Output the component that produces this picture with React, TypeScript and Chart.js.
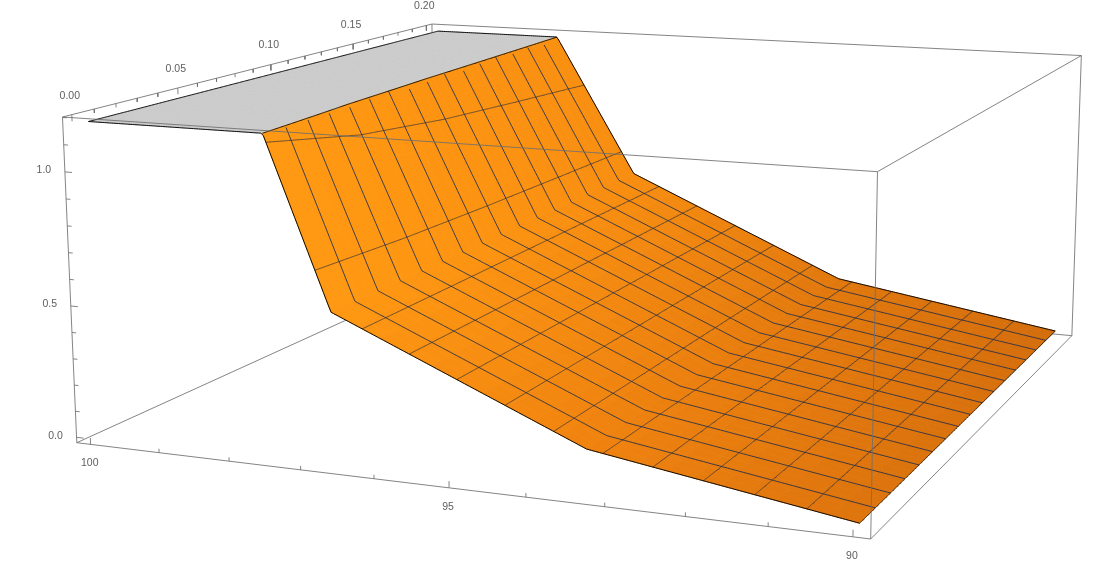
import React, { useEffect, useRef } from "react";
import { Chart, registerables } from "chart.js";

Chart.register(...registerables);

// ---- data ----
const strikes = [100, 96.67, 93.33, 90];
const maturities = [0.001, 0.05, 0.1, 0.15, 0.2];
const values100 = [2.94, 2.6, 2.4, 2.27, 2.15];
const values9667 = [0.551, 0.555, 0.56, 0.565, 0.57];
const values9333 = [0.153, 0.154, 0.156, 0.158, 0.159];
const values90 = [0.004, 0.005, 0.006, 0.007, 0.008];
const zClip = 1.178;
const meshDivisions = 16;

const xTickLabels = ["100", "95", "90"];
const tTickLabels = ["0.00", "0.05", "0.10", "0.15", "0.20"];
const zTickLabels = ["0.0", "0.5", "1.0"];

// ---- style ----
const W = 1119;
const H = 564;
const shadeByStrike = [
  [[255, 154, 18], [255, 152, 18], [254, 150, 18], [252, 148, 17], [250, 146, 17]],
  [[255, 152, 18], [254, 150, 18], [252, 147, 17], [250, 144, 17], [248, 142, 16]],
  [[240, 131, 15], [237, 129, 15], [233, 126, 14], [229, 123, 14], [225, 120, 13]],
  [[221, 116, 13], [219, 115, 13], [217, 113, 13], [214, 111, 12], [211, 109, 12]],
];
const plateauColor = "#cbcbcb";
const boxColor = "rgba(110,110,110,0.85)";
const labelColor = "#606060";
const meshStrikeColor = "rgba(55,50,55,0.72)";
const meshMaturityColor = "rgba(30,45,75,0.85)";

// ---- camera: maps box coordinates to the picture ----
const toU = (x: number) => 0.0198 + (0.9604 * (100 - x)) / 10;
const toV = (t: number) => 0.0196 + (0.9608 * t) / 0.2;
const toW = (z: number) => 0.0169 + 0.818 * z;
const projectBox = (u: number, v: number, w: number) => {
  const d = 1 - 0.11697 * u + 0.2853 * v - 0.02491 * w;
  return {
    x: (76.8 + 692.05 * u + 483.45 * v - 15.86 * w) / d,
    y: (442.7 + 33.25 * u - 83.8 * v - 328.61 * w) / d,
    d,
  };
};
const project = (x: number, t: number, z: number) => projectBox(toU(x), toV(t), toW(z));

const grid = [values100, values9667, values9333, values90];

const segIndex = (nodes: number[], val: number, desc: boolean) => {
  for (let i = 0; i < nodes.length - 2; i++) {
    if (desc ? val >= nodes[i + 1] : val <= nodes[i + 1]) return i;
  }
  return nodes.length - 2;
};
const surface = (x: number, t: number) => {
  const i = segIndex(strikes, x, true);
  const j = segIndex(maturities, t, false);
  const a = (x - strikes[i]) / (strikes[i + 1] - strikes[i]);
  const b = (t - maturities[j]) / (maturities[j + 1] - maturities[j]);
  return (
    grid[i][j] * (1 - a) * (1 - b) +
    grid[i + 1][j] * a * (1 - b) +
    grid[i][j + 1] * (1 - a) * b +
    grid[i + 1][j + 1] * a * b
  );
};
const shade = (x: number, t: number) => {
  const i = segIndex(strikes, x, true);
  const j = segIndex(maturities, t, false);
  const a = (x - strikes[i]) / (strikes[i + 1] - strikes[i]);
  const b = (t - maturities[j]) / (maturities[j + 1] - maturities[j]);
  const c = [0, 1, 2].map(
    (k) =>
      shadeByStrike[i][j][k] * (1 - a) * (1 - b) +
      shadeByStrike[i + 1][j][k] * a * (1 - b) +
      shadeByStrike[i][j + 1][k] * (1 - a) * b +
      shadeByStrike[i + 1][j + 1][k] * a * b
  );
  return `rgb(${c.map((n) => Math.round(n)).join(",")})`;
};

type P3 = [number, number, number];
const clipPoly = (poly: P3[], keepBelow: boolean): P3[] => {
  const out: P3[] = [];
  const inside = (p: P3) => (keepBelow ? p[2] <= zClip : p[2] >= zClip);
  for (let i = 0; i < poly.length; i++) {
    const a = poly[i];
    const b = poly[(i + 1) % poly.length];
    if (inside(a)) out.push(a);
    if (inside(a) !== inside(b)) {
      const s = (zClip - a[2]) / (b[2] - a[2]);
      out.push([a[0] + s * (b[0] - a[0]), a[1] + s * (b[1] - a[1]), zClip]);
    }
  }
  return out;
};

const buildDatasets = () => {
  const layers: any[] = [];
  const line = (pts: { x: number; y: number }[], color: string, width: number) => {
    layers.push({
      type: "scatter",
      data: pts.map((p) => ({ x: p.x, y: p.y })),
      showLine: true,
      borderColor: color,
      borderWidth: width,
      pointRadius: 0,
      tension: 0,
      clip: false,
    });
  };
  const boxEdge = (a: P3, b: P3) =>
    line([projectBox(a[0], a[1], a[2]), projectBox(b[0], b[1], b[2])], boxColor, 1);

  // hidden box edges, behind the surface
  boxEdge([0, 0, 0], [0, 1, 0]);
  boxEdge([0, 1, 0], [1, 1, 0]);
  boxEdge([0, 1, 0], [0, 1, 1]);
  boxEdge([0, 1, 1], [1, 1, 1]);
  boxEdge([1, 1, 0], [1, 1, 1]);
  boxEdge([1, 1, 1], [1, 0, 1]);
  boxEdge([1, 0, 0], [1, 1, 0]);
  boxEdge([0, 0, 0], [0, 0, 1]);
  boxEdge([0, 0, 1], [0, 1, 1]);
  boxEdge([0, 0, 0], [1, 0, 0]);

  // surface facets, far to near
  const facets: { pts: P3[]; color: string; depth: number }[] = [];
  const SUB = 10;
  for (let i = 0; i < strikes.length - 1; i++) {
    for (let j = 0; j < maturities.length - 1; j++) {
      for (let a = 0; a < SUB; a++) {
        for (let b = 0; b < SUB; b++) {
          const x0 = strikes[i] + ((strikes[i + 1] - strikes[i]) * a) / SUB;
          const x1 = strikes[i] + ((strikes[i + 1] - strikes[i]) * (a + 1)) / SUB;
          const t0 = maturities[j] + ((maturities[j + 1] - maturities[j]) * b) / SUB;
          const t1 = maturities[j] + ((maturities[j + 1] - maturities[j]) * (b + 1)) / SUB;
          const quad: P3[] = [
            [x0, t0, surface(x0, t0)],
            [x1, t0, surface(x1, t0)],
            [x1, t1, surface(x1, t1)],
            [x0, t1, surface(x0, t1)],
          ];
          const xm = (x0 + x1) / 2;
          const tm = (t0 + t1) / 2;
          const below = clipPoly(quad, true);
          const above = clipPoly(quad, false);
          const depth = project(xm, tm, surface(xm, tm)).d;
          if (above.length > 2) facets.push({ pts: above, color: plateauColor, depth });
          if (below.length > 2) facets.push({ pts: below, color: shade(xm, tm), depth });
        }
      }
    }
  }
  facets.sort((p, q) => q.depth - p.depth);
  facets.forEach((f) => {
    layers.push({
      type: "scatter",
      data: f.pts.map((p) => {
        const q = project(p[0], p[1], Math.min(p[2], zClip));
        return { x: q.x, y: q.y };
      }),
      showLine: false,
      pointRadius: 0,
      polyColor: f.color,
      clip: false,
    });
  });

  const xMin = strikes[strikes.length - 1];
  const xMax = strikes[0];
  const tMin = maturities[0];
  const tMax = maturities[maturities.length - 1];
  const N = 300;

  // mesh: lines of constant strike
  for (let m = 1; m < meshDivisions; m++) {
    const x = xMax - ((xMax - xMin) * m) / meshDivisions;
    const pts: any[] = [];
    for (let k = 0; k <= N; k++) {
      const t = tMin + ((tMax - tMin) * k) / N;
      const z = surface(x, t);
      if (z < zClip) pts.push(project(x, t, z));
    }
    if (pts.length > 1) line(pts, meshStrikeColor, 1);
  }
  // mesh: lines of constant maturity
  for (let m = 1; m < meshDivisions; m++) {
    const t = tMin + ((tMax - tMin) * m) / meshDivisions;
    const pts: any[] = [];
    for (let k = 0; k <= N; k++) {
      const x = xMax - ((xMax - xMin) * k) / N;
      const z = surface(x, t);
      if (z < zClip) pts.push(project(x, t, z));
    }
    line(pts, meshMaturityColor, 1);
  }

  // surface outline
  const clampPoint = (x: number, t: number) => project(x, t, Math.min(surface(x, t), zClip));
  const front: any[] = [];
  const far: any[] = [];
  const right: any[] = [];
  const left: any[] = [];
  const crease: any[] = [];
  for (let k = 0; k <= N; k++) {
    const x = xMax - ((xMax - xMin) * k) / N;
    front.push(clampPoint(x, tMin));
    far.push(clampPoint(x, tMax));
    const t = tMin + ((tMax - tMin) * k) / N;
    right.push(clampPoint(xMin, t));
    left.push(clampPoint(xMax, t));
    const z0 = surface(strikes[0], t);
    const z1 = surface(strikes[1], t);
    const xc = strikes[1] + ((zClip - z1) / (z0 - z1)) * (strikes[0] - strikes[1]);
    crease.push(project(xc, t, zClip));
  }
  line(left, "rgba(0,0,0,0.9)", 1);
  line(crease, "rgba(0,0,0,0.85)", 1);
  line(front, "rgba(0,0,0,0.95)", 1);
  line(far, "rgba(0,0,0,0.95)", 1);
  line(right, "rgba(0,0,0,0.6)", 1);

  // box edges in front of the surface
  boxEdge([0, 0, 1], [1, 0, 1]);
  boxEdge([1, 0, 0], [1, 0, 1]);

  // ticks
  const tick = (a: any, b: any) => line([a, b], boxColor, 1);
  for (let n = 90; n <= 100; n++) {
    const len = n % 5 === 0 ? 0.02 : 0.012;
    tick(projectBox(toU(n), 0, 0), projectBox(toU(n), 0, len));
  }
  for (let n = 0; n <= 20; n++) {
    const t = n / 100;
    const len = n % 5 === 0 ? 0.02 : 0.012;
    tick(projectBox(0, toV(t), 1), projectBox(0, toV(t), 1 - len));
  }
  for (let n = 0; n <= 12; n++) {
    const z = n / 10;
    const len = n % 5 === 0 ? 0.01 : 0.006;
    tick(projectBox(0, 0, toW(z)), projectBox(len, 0, toW(z)));
  }
  return layers.reverse();
};

const surfacePlugin = {
  id: "surfaceFacets",
  beforeDatasetDraw(chart: any, args: any) {
    const ds = chart.data.datasets[args.index];
    if (!ds.polyColor) return;
    const pts = args.meta.data;
    const ctx = chart.ctx;
    ctx.save();
    ctx.beginPath();
    pts.forEach((p: any, i: number) => (i ? ctx.lineTo(p.x, p.y) : ctx.moveTo(p.x, p.y)));
    ctx.closePath();
    ctx.fillStyle = ds.polyColor;
    ctx.strokeStyle = ds.polyColor;
    ctx.lineWidth = 0.8;
    ctx.fill();
    ctx.stroke();
    ctx.restore();
  },
  afterDatasetsDraw(chart: any) {
    const ctx = chart.ctx;
    const sx = chart.scales.x;
    const sy = chart.scales.y;
    const text = (s: string, p: { x: number; y: number }, dx: number, dy: number) =>
      ctx.fillText(s, sx.getPixelForValue(p.x) + dx, sy.getPixelForValue(p.y) + dy);
    ctx.save();
    ctx.font = '10.5px "Liberation Sans", Arial, sans-serif';
    ctx.fillStyle = labelColor;
    ctx.textAlign = "center";
    ctx.textBaseline = "middle";
    xTickLabels.forEach((s) => text(s, projectBox(toU(Number(s)), 0, 0), -1, 19));
    tTickLabels.forEach((s) => text(s, projectBox(0, toV(Number(s)), 1), -2, -19));
    zTickLabels.forEach((s) => text(s, projectBox(0, 0, toW(Number(s))), -21, -1.5));
    ctx.restore();
  },
};

export default function App() {
  const ref = useRef<HTMLCanvasElement>(null);
  useEffect(() => {
    const chart = new Chart(ref.current as HTMLCanvasElement, {
      type: "scatter",
      data: { datasets: buildDatasets() },
      options: {
        animation: false,
        responsive: false,
        events: [],
        layout: { padding: 0 },
        plugins: { legend: { display: false }, tooltip: { enabled: false } },
        scales: {
          x: { type: "linear", min: 0, max: W, display: false },
          y: { type: "linear", min: 0, max: H, reverse: true, display: false },
        },
      },
      plugins: [surfacePlugin],
    } as any);
    return () => chart.destroy();
  }, []);
  return (
    <div style={{ position: "fixed", left: 0, top: 0, width: W, height: H, background: "#fff" }}>
      <canvas ref={ref} width={W} height={H} style={{ display: "block", width: W, height: H }} />
    </div>
  );
}
